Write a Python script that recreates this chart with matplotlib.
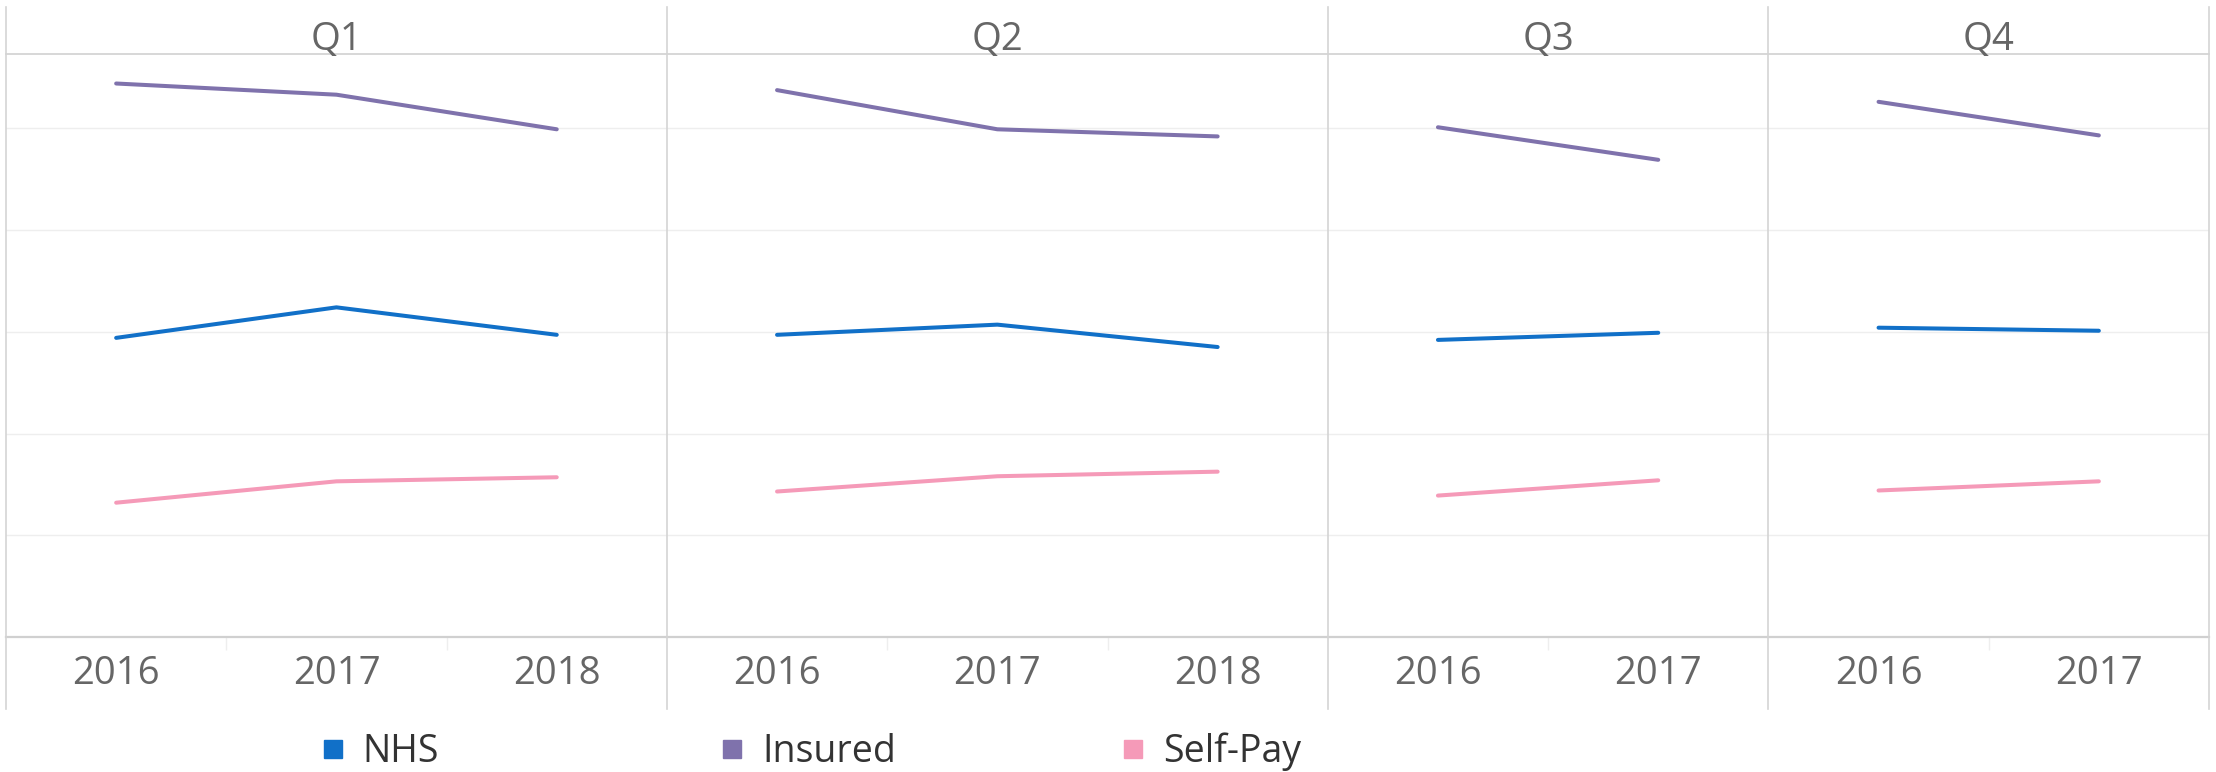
import matplotlib
matplotlib.use("Agg")
import matplotlib.pyplot as plt
from matplotlib.lines import Line2D

plt.rcParams['font.family'] = ['Open Sans', 'DejaVu Sans']

# ---- data ----
quarters = ["Q1", "Q2", "Q3", "Q4"]
years_by_quarter = [["2016", "2017", "2018"], ["2016", "2017", "2018"],
                    ["2016", "2017"], ["2016", "2017"]]
series = ["NHS", "Insured", "Self-Pay"]
nhs = [[29.4, 32.4, 29.7], [29.7, 30.7, 28.5], [29.2, 29.9], [30.4, 30.1]]
insured = [[54.4, 53.3, 49.9], [53.75, 49.9, 49.2], [50.1, 46.9], [52.6, 49.3]]
selfpay = [[13.2, 15.3, 15.7], [14.3, 15.8, 16.25], [13.9, 15.4], [14.4, 15.3]]
colors = {"NHS": "#1170C8", "Insured": "#7F72AC", "Self-Pay": "#F59AB8"}
values = {"NHS": nhs, "Insured": insured, "Self-Pay": selfpay}
grid_vals = [10, 20, 30, 40, 50]

# ---- layout ----
W, H = 2216, 772
fig = plt.figure(figsize=(W / 100, H / 100), dpi=100)
left_px, right_px = 6, 2209
top_px, bottom_px = 54, 637
band_top, band_bottom = 7, 709
nslots = sum(len(y) for y in years_by_quarter)
slot_w = (right_px - left_px) / nslots
ymax = 57.3
divider_col = "#d4d4d4"
text_col = "#666666"
fs = 27.5

x0 = left_px
edges = [x0]
for qi, q in enumerate(quarters):
    yrs = years_by_quarter[qi]
    w = slot_w * len(yrs)
    ax = fig.add_axes([x0 / W, (H - bottom_px) / H, w / W, (bottom_px - top_px) / H])
    xs = list(range(len(yrs)))
    for s in series:
        ax.plot(xs, values[s][qi], color=colors[s], lw=2.9, solid_capstyle='round',
                solid_joinstyle='round', zorder=3)
    ax.set_xlim(-0.5, len(yrs) - 0.5)
    ax.set_ylim(0, ymax)
    for g in grid_vals:
        ax.axhline(g, color="#eeeeee", lw=1.0, zorder=1)
    for sp in ["left", "right"]:
        ax.spines[sp].set_visible(False)
    ax.spines["top"].set_color(divider_col)
    ax.spines["top"].set_linewidth(1.3)
    ax.spines["bottom"].set_color("#d0d0d0")
    ax.spines["bottom"].set_linewidth(1.6)
    ax.set_yticks([])
    ax.set_xticks(xs)
    ax.set_xticklabels(yrs, fontsize=fs, color=text_col)
    ax.tick_params(axis='x', length=0, pad=13)
    ax.set_xticks([i + 0.5 for i in range(len(yrs) - 1)], minor=True)
    ax.tick_params(axis='x', which='minor', length=9, color="#eeeeee", width=1)
    ax.set_facecolor("white")
    fig.text((x0 + w / 2) / W, 1 - 35 / H, q, ha='center', va='center_baseline',
             fontsize=fs, color=text_col)
    x0 += w
    edges.append(x0)

for e in edges:
    fig.add_artist(Line2D([e / W, e / W], [1 - band_top / H, 1 - band_bottom / H],
                          transform=fig.transFigure, color=divider_col, lw=1.2))

# legend
sq_centers = [332.5, 732, 1133]
for s, cx in zip(series, sq_centers):
    h = Line2D([], [], marker='s', color=colors[s], linestyle='None', markersize=13.5)
    leg = fig.legend([h], [s], loc='center left',
                     bbox_to_anchor=((cx - 15) / W, 1 - 752 / H),
                     frameon=False, fontsize=27, handletextpad=0.41,
                     handlelength=0.8, borderaxespad=0, borderpad=0)
    for t in leg.get_texts():
        t.set_color("#333333")

fig.savefig("out.png", dpi=100, facecolor="white")
